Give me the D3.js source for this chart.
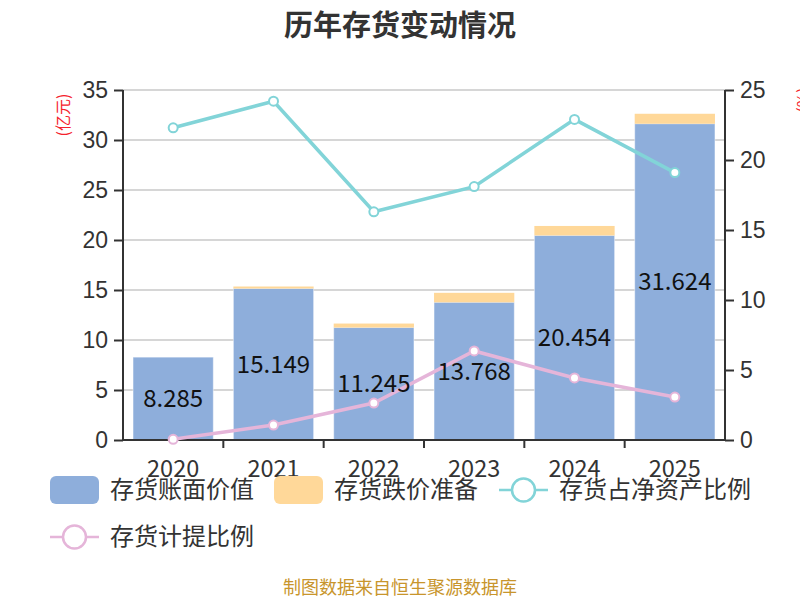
<!DOCTYPE html>
<html>
<head>
<meta charset="utf-8">
<script src="https://cdn.jsdelivr.net/npm/d3@7"></script>
<style>
  body { margin: 0; background: #fff; }
  svg { font-family: "Noto Sans CJK SC", "Noto Sans", sans-serif; }
</style>
</head>
<body>
<div id="chart"></div>
<script>
// data
var years = ["2020", "2021", "2022", "2023", "2024", "2025"];
var bookValue = [8.285, 15.149, 11.245, 13.768, 20.454, 31.624];   // 存货账面价值 (亿元)
var reserve = [0.0, 0.2, 0.4, 0.95, 0.95, 1.0];                     // 存货跌价准备 (亿元)
var netAssetRatio = [22.3, 24.2, 16.3, 18.1, 22.9, 19.1];           // 存货占净资产比例 (%)
var provisionRatio = [0.05, 1.07, 2.64, 6.36, 4.43, 3.07];          // 存货计提比例 (%)
var leftTicks = [0, 5, 10, 15, 20, 25, 30, 35];
var rightTicks = [0, 5, 10, 15, 20, 25];

var width = 800, height = 600;
var plotLeft = 123, plotRight = 725, plotTop = 90, plotBottom = 440;

var svg = d3.select('#chart')
    .append('svg')
    .attr('width', width)
    .attr('height', height);

// Title
svg.append('text')
    .attr('x', width / 2)
    .attr('y', 36)
    .attr('text-anchor', 'middle')
    .style('font-size', '29px')
    .style('font-weight', 'bold')
    .style('fill', '#333')
    .text('历年存货变动情况');

var x = d3.scaleBand().domain(years).range([plotLeft, plotRight]).paddingInner(0.2).paddingOuter(0.1);
var xEdge = d3.scaleBand().domain(years).range([plotLeft, plotRight]);
var y = d3.scaleLinear().domain([0, 35]).range([plotBottom, plotTop]);
var y2 = d3.scaleLinear().domain([0, 25]).range([plotBottom, plotTop]);

// Grid lines
svg.append('g')
    .selectAll('line')
    .data(leftTicks.filter(d => d > 0))
    .enter()
    .append('line')
    .attr('x1', plotLeft).attr('x2', plotRight)
    .attr('y1', d => y(d)).attr('y2', d => y(d))
    .style('stroke', '#c8c8c8')
    .style('stroke-width', 1.5);

// Bars: book value then reserve stacked on top
var barGroup = svg.append('g');
barGroup.selectAll('.book')
    .data(years)
    .enter()
    .append('rect')
    .attr('class', 'book')
    .attr('x', d => x(d))
    .attr('width', x.bandwidth())
    .attr('y', (d, i) => y(bookValue[i]))
    .attr('height', (d, i) => y(0) - y(bookValue[i]))
    .style('fill', '#8eaedb')
    .style('stroke', 'rgba(255,255,255,0.45)')
    .style('stroke-width', 1);

barGroup.selectAll('.reserve')
    .data(years)
    .enter()
    .append('rect')
    .attr('class', 'reserve')
    .attr('x', d => x(d))
    .attr('width', x.bandwidth())
    .attr('y', (d, i) => y(bookValue[i] + reserve[i]))
    .attr('height', (d, i) => y(bookValue[i]) - y(bookValue[i] + reserve[i]))
    .style('fill', '#ffd899');

// Left axis
var yAxis = d3.axisLeft(y).tickValues(leftTicks).tickSize(9).tickPadding(6);
var gy = svg.append('g')
    .attr('transform', 'translate(' + plotLeft + ',0)')
    .call(yAxis);
gy.selectAll('text').style('font-size', '23px').style('fill', '#333');
gy.selectAll('line, path').style('stroke', '#333').style('stroke-width', 2);
gy.select('.domain').attr('d', 'M0,' + plotTop + 'V' + plotBottom);

// Right axis
var yAxis2 = d3.axisRight(y2).tickValues(rightTicks).tickSize(9).tickPadding(6);
var gy2 = svg.append('g')
    .attr('transform', 'translate(' + plotRight + ',0)')
    .call(yAxis2);
gy2.selectAll('text').style('font-size', '23px').style('fill', '#333');
gy2.selectAll('line, path').style('stroke', '#333').style('stroke-width', 2);
gy2.select('.domain').attr('d', 'M0,' + plotTop + 'V' + plotBottom);

// Bottom axis
var gx = svg.append('g').attr('transform', 'translate(0,' + plotBottom + ')');
gx.append('line')
    .attr('x1', plotLeft).attr('x2', plotRight)
    .style('stroke', '#333').style('stroke-width', 2);
gx.selectAll('.tick')
    .data(years.slice(0, -1))
    .enter()
    .append('line')
    .attr('x1', d => xEdge(d) + xEdge.bandwidth())
    .attr('x2', d => xEdge(d) + xEdge.bandwidth())
    .attr('y1', 0).attr('y2', 8)
    .style('stroke', '#333').style('stroke-width', 2);
gx.selectAll('text')
    .data(years)
    .enter()
    .append('text')
    .attr('x', d => x(d) + x.bandwidth() / 2)
    .attr('y', 37)
    .attr('text-anchor', 'middle')
    .style('font-size', '23.5px')
    .style('fill', '#333')
    .text(d => d);

// Axis unit labels
svg.append('text')
    .attr('transform', 'translate(69,115) rotate(-90)')
    .attr('text-anchor', 'middle')
    .style('font-size', '16px')
    .style('fill', '#f5222d')
    .text('(亿元)');
svg.append('text')
    .attr('transform', 'translate(809,100) rotate(-90)')
    .attr('text-anchor', 'middle')
    .style('font-size', '16px')
    .style('fill', '#f5222d')
    .text('(%)');

// Lines
function drawLine(values, color) {
    var line = d3.line()
        .x((d, i) => x(years[i]) + x.bandwidth() / 2)
        .y(d => y2(d));
    svg.append('path')
        .datum(values)
        .attr('d', line)
        .style('fill', 'none')
        .style('stroke', color)
        .style('stroke-width', 3.5);
    svg.append('g')
        .selectAll('circle')
        .data(values)
        .enter()
        .append('circle')
        .attr('cx', (d, i) => x(years[i]) + x.bandwidth() / 2)
        .attr('cy', d => y2(d))
        .attr('r', 4.5)
        .style('fill', '#fff')
        .style('stroke', color)
        .style('stroke-width', 2);
}
drawLine(netAssetRatio, '#82d4d8');
drawLine(provisionRatio, '#e5b5d9');

// Value labels in the middle of the book value bars
svg.append('g')
    .selectAll('text')
    .data(years)
    .enter()
    .append('text')
    .attr('x', d => x(d) + x.bandwidth() / 2)
    .attr('y', (d, i) => (y(0) + y(bookValue[i])) / 2)
    .attr('dy', '0.35em')
    .attr('text-anchor', 'middle')
    .style('font-size', '24px')
    .style('fill', '#111')
    .text((d, i) => bookValue[i].toFixed(3));

// Legend
var legend = svg.append('g');
function legendRect(lx, ly, color, label) {
    legend.append('rect')
        .attr('x', lx).attr('y', ly - 14)
        .attr('width', 49).attr('height', 28)
        .attr('rx', 6)
        .style('fill', color);
    legend.append('text')
        .attr('x', lx + 60).attr('y', ly)
        .attr('dy', '0.35em')
        .style('font-size', '24px')
        .style('fill', '#333')
        .text(label);
}
function legendLine(lx, ly, color, label) {
    legend.append('line')
        .attr('x1', lx).attr('x2', lx + 49)
        .attr('y1', ly).attr('y2', ly)
        .style('stroke', color).style('stroke-width', 2.5);
    legend.append('circle')
        .attr('cx', lx + 24.5).attr('cy', ly).attr('r', 11.5)
        .style('fill', '#fff')
        .style('stroke', color).style('stroke-width', 2.5);
    legend.append('text')
        .attr('x', lx + 60).attr('y', ly)
        .attr('dy', '0.35em')
        .style('font-size', '24px')
        .style('fill', '#333')
        .text(label);
}
legendRect(50, 490, '#8eaedb', '存货账面价值');
legendRect(274, 490, '#ffd899', '存货跌价准备');
legendLine(499, 490, '#82d4d8', '存货占净资产比例');
legendLine(50, 537, '#e5b5d9', '存货计提比例');

// Footer
svg.append('text')
    .attr('x', width / 2)
    .attr('y', 594)
    .attr('text-anchor', 'middle')
    .style('font-size', '18px')
    .style('fill', '#c8952c')
    .text('制图数据来自恒生聚源数据库');
</script>
</body>
</html>
